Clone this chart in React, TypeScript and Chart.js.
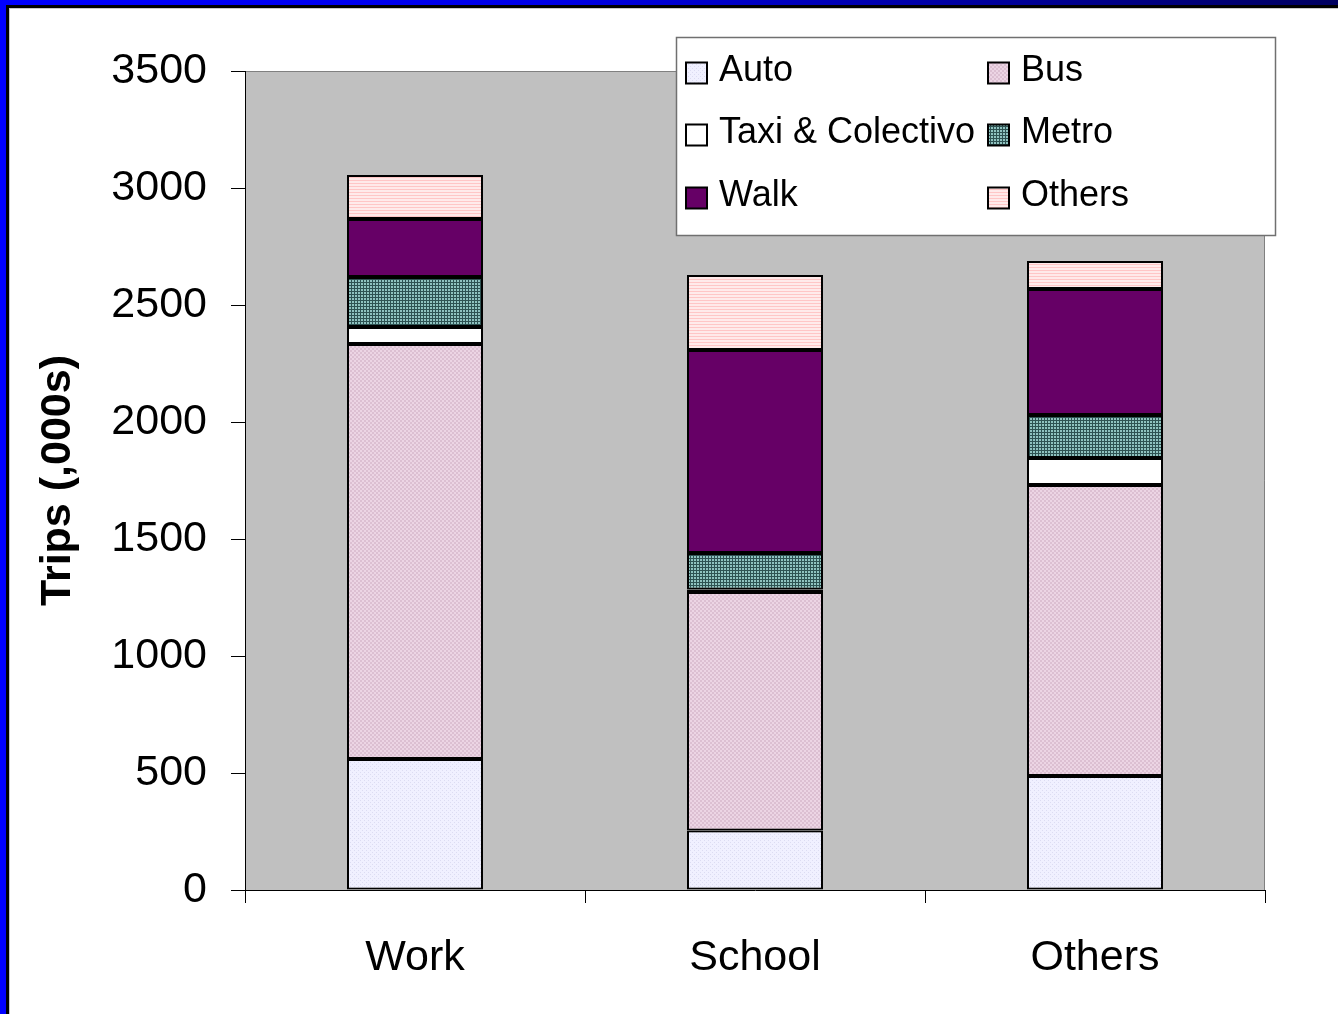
import React, { useEffect, useRef } from "react";
import { Chart, registerables } from "chart.js";

Chart.register(...registerables);

// Trip purposes along the x axis
const categories = ["Work", "School", "Others"];

// Trips by mode, thousands
const autoTrips = [560, 254, 487];
const busTrips = [1773, 1020, 1244];
const taxiTrips = [73, 10, 115];
const metroTrips = [214, 156, 184];
const walkTrips = [248, 868, 538];
const otherTrips = [188, 320, 120];

const modeNames = ["Auto", "Bus", "Taxi & Colectivo", "Metro", "Walk", "Others"];
const yTicks = [0, 500, 1000, 1500, 2000, 2500, 3000, 3500];

const FONT = "'Liberation Sans', Arial, Helvetica, sans-serif";

function makePattern(w: number, h: number, paint: (ctx: CanvasRenderingContext2D) => void) {
  const c = document.createElement("canvas");
  c.width = w;
  c.height = h;
  const ctx = c.getContext("2d")!;
  paint(ctx);
  return ctx.createPattern(c, "repeat")!;
}

function buildFills() {
  const auto = makePattern(4, 4, (ctx) => {
    ctx.fillStyle = "#F0F0FF";
    ctx.fillRect(0, 0, 4, 4);
    ctx.fillStyle = "#DCDCF2";
    ctx.fillRect(0, 0, 1, 1);
    ctx.fillRect(2, 2, 1, 1);
  });
  const bus = makePattern(4, 4, (ctx) => {
    ctx.fillStyle = "#ECD5E4";
    ctx.fillRect(0, 0, 4, 4);
    ctx.fillStyle = "#DCC0D2";
    ctx.fillRect(0, 0, 2, 2);
    ctx.fillRect(2, 2, 2, 2);
  });
  const taxi = "#FFFFFF";
  const metro = makePattern(3, 3, (ctx) => {
    ctx.fillStyle = "#8FC2BF";
    ctx.fillRect(0, 0, 3, 3);
    ctx.fillStyle = "#2E5252";
    ctx.fillRect(0, 0, 3, 1);
    ctx.fillRect(0, 0, 1, 3);
  });
  const walk = "#660066";
  const others = makePattern(3, 3, (ctx) => {
    ctx.fillStyle = "#FFEAEA";
    ctx.fillRect(0, 0, 3, 3);
    ctx.fillStyle = "#FFC6C6";
    ctx.fillRect(0, 0, 3, 1);
  });
  return [auto, bus, taxi, metro, walk, others];
}

// Grey plot area behind the bars
const plotBackground = {
  id: "plotBackground",
  beforeDraw(chart: any) {
    const { ctx, chartArea } = chart;
    const { left, top, right, bottom } = chartArea;
    ctx.save();
    ctx.fillStyle = "#C0C0C0";
    ctx.fillRect(left, top, right - left, bottom - top);
    ctx.strokeStyle = "#808080";
    ctx.lineWidth = 1;
    ctx.beginPath();
    ctx.moveTo(left, top + 0.5);
    ctx.lineTo(right - 0.5, top + 0.5);
    ctx.lineTo(right - 0.5, bottom);
    ctx.stroke();
    ctx.restore();
  },
};

// Two-column boxed legend in the upper right
const boxedLegend = {
  id: "boxedLegend",
  afterDraw(chart: any) {
    const { ctx } = chart;
    const boxX = 676;
    const boxY = 37;
    const boxW = 600;
    const boxH = 199;
    ctx.save();
    ctx.fillStyle = "#FFFFFF";
    ctx.fillRect(boxX, boxY, boxW, boxH);
    ctx.strokeStyle = "#707070";
    ctx.lineWidth = 1.5;
    ctx.strokeRect(boxX + 0.5, boxY + 0.5, boxW - 1, boxH - 1);

    const colX = [686, 988];
    const rowY = [73, 135, 198];
    ctx.font = `36px ${FONT}`;
    ctx.textBaseline = "alphabetic";
    ctx.textAlign = "left";
    chart.data.datasets.forEach((ds: any, i: number) => {
      const cx = colX[i % 2];
      const cy = rowY[Math.floor(i / 2)];
      const s = 21;
      ctx.fillStyle = ds.backgroundColor;
      ctx.fillRect(cx, cy - s / 2, s, s);
      ctx.strokeStyle = "#000000";
      ctx.lineWidth = 2;
      ctx.strokeRect(cx, cy - s / 2, s, s);
      ctx.fillStyle = "#000000";
      ctx.fillText(ds.label, cx + 33, cy + 8);
    });
    ctx.restore();
  },
};

export default function App() {
  const canvasRef = useRef<HTMLCanvasElement | null>(null);

  useEffect(() => {
    const canvas = canvasRef.current;
    if (!canvas) return;
    const fills = buildFills();
    const series = [autoTrips, busTrips, taxiTrips, metroTrips, walkTrips, otherTrips];

    const chart = new Chart(canvas, {
      type: "bar",
      data: {
        labels: categories,
        datasets: series.map((values, i) => ({
          label: modeNames[i],
          data: values,
          backgroundColor: fills[i] as any,
          borderColor: "#000000",
          borderWidth: 2,
          borderSkipped: false,
          barPercentage: 0.4,
          categoryPercentage: 1,
        })),
      },
      options: {
        animation: false,
        responsive: false,
        devicePixelRatio: 1,
        layout: { padding: { top: 71, right: 73, left: 0, bottom: 0 } },
        plugins: {
          legend: { display: false },
          tooltip: { enabled: false },
        },
        scales: {
          x: {
            stacked: true,
            offset: true,
            grid: {
              display: true,
              offset: true,
              drawOnChartArea: false,
              drawTicks: true,
              tickLength: 13,
              color: "#000000",
            },
            border: { display: true, color: "#000000", width: 1 },
            ticks: {
              color: "#000000",
              font: { family: FONT, size: 43 },
              padding: 29,
            },
            afterFit(scale: any) {
              scale.height = 124;
            },
          },
          y: {
            stacked: true,
            min: 0,
            max: 3500,
            afterBuildTicks(scale: any) {
              scale.ticks = yTicks.map((v) => ({ value: v }));
            },
            grid: {
              display: true,
              drawOnChartArea: false,
              drawTicks: true,
              tickLength: 14,
              color: "#000000",
            },
            border: { display: true, color: "#000000", width: 1 },
            ticks: {
              color: "#000000",
              font: { family: FONT, size: 43 },
              padding: 24,
              callback: (value: any) => String(value),
            },
            title: {
              display: true,
              text: "Trips (,000s)",
              color: "#000000",
              font: { family: FONT, size: 43, weight: "bold" },
              padding: { top: 32, bottom: 0 },
            },
            afterFit(scale: any) {
              scale.width = 245;
            },
          },
        },
      },
      plugins: [plotBackground, boxedLegend],
    });

    return () => chart.destroy();
  }, []);

  return (
    <div
      style={{
        position: "absolute",
        left: 0,
        top: 0,
        width: 1338,
        height: 1014,
        background: "#FFFFFF",
        overflow: "hidden",
      }}
    >
      <canvas
        ref={canvasRef}
        width={1338}
        height={1014}
        style={{ position: "absolute", left: 0, top: 0, width: 1338, height: 1014 }}
      />
      {/* slide frame: blue band with a dark inner rule */}
      <div
        style={{
          position: "absolute",
          left: 0,
          top: 0,
          width: 1338,
          height: 5,
          background: "linear-gradient(to right, #0000FF 0%, #0000E8 40%, #00009A 75%, #000060 100%)",
        }}
      />
      <div style={{ position: "absolute", left: 6, top: 5, width: 1332, height: 3, background: "#000000" }} />
      <div style={{ position: "absolute", left: 9, top: 8, width: 1329, height: 1, background: "#C8C8C8" }} />
      <div style={{ position: "absolute", left: 0, top: 0, width: 6, height: 1014, background: "#0000FF" }} />
      <div style={{ position: "absolute", left: 6, top: 5, width: 3, height: 1009, background: "#000000" }} />
      <div style={{ position: "absolute", left: 9, top: 8, width: 1, height: 1006, background: "#C8C8C8" }} />
    </div>
  );
}
